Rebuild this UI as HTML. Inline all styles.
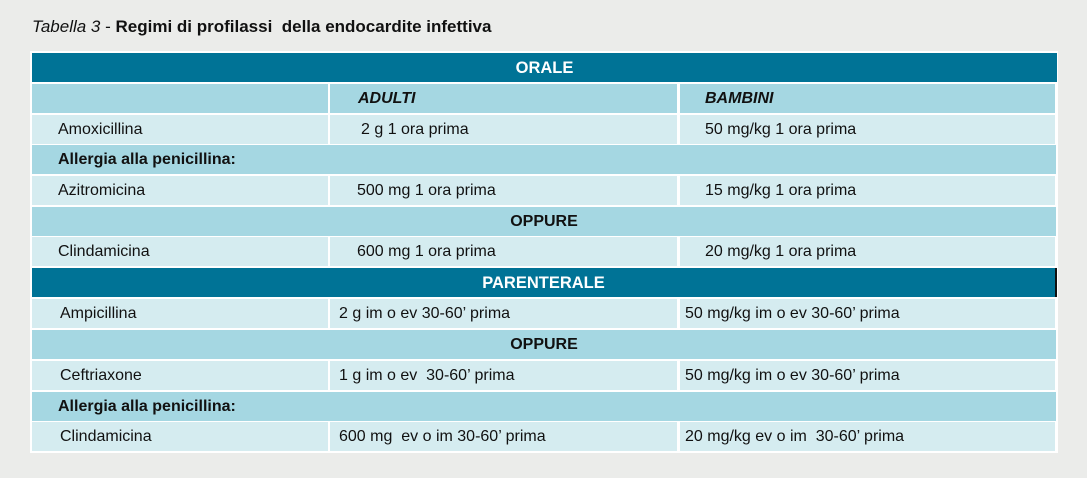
<!DOCTYPE html>
<html><head><meta charset="utf-8"><style>
body{margin:0;width:1087px;height:478px;background:#ebecea;font-family:"Liberation Sans",Arial,sans-serif;position:relative;overflow:hidden;color:#111}
.t{position:absolute;left:32px;top:17px;font-size:17px;white-space:nowrap}
.frame{position:absolute;left:30px;top:51px;width:1028px;height:402px;background:#fff}
.c{position:absolute;height:29px;line-height:30px;font-size:16px;white-space:nowrap;box-sizing:border-box}
.d{background:#007396;color:#fff;font-weight:bold;text-align:center;font-size:16.5px}
.m{background:#a5d7e2}
.l{background:#d5ecf0}
</style></head><body>
<div class="t"><i>Tabella 3</i> - <b>Regimi di profilassi&nbsp; della endocardite infettiva</b></div>
<div class="frame"></div>
<div id="rows"></div>
<script>
const tops=[53,84,115,145,176,207,237,268,299,330,361,392,422];
const rows=[
 ['d','ORALE','orale-header'],
 ['h',['','<b><i>ADULTI</i></b>','<b><i>BAMBINI</i></b>'],[0,28,25],'column-headers'],
 ['r',['Amoxicillina','2 g 1 ora prima','50 mg/kg 1 ora prima'],[26,31,25],'amoxicillina-row'],
 ['a','Allergia alla penicillina:','allergia-row-orale'],
 ['r',['Azitromicina','500 mg 1 ora prima','15 mg/kg 1 ora prima'],[26,27,25],'azitromicina-row'],
 ['o','OPPURE','oppure-orale'],
 ['r',['Clindamicina','600 mg 1 ora prima','20 mg/kg 1 ora prima'],[26,27,25],'clindamicina-orale-row'],
 ['d','PARENTERALE','parenterale-header'],
 ['r',['Ampicillina','2 g im o ev 30-60’ prima','50 mg/kg im o ev 30-60’ prima'],[28,9,5],'ampicillina-row'],
 ['o','OPPURE','oppure-parenterale'],
 ['r',['Ceftriaxone','1 g im o ev&nbsp; 30-60’ prima','50 mg/kg im o ev 30-60’ prima'],[28,9,5],'ceftriaxone-row'],
 ['a','Allergia alla penicillina:','allergia-row-parenterale'],
 ['r',['Clindamicina','600 mg&nbsp; ev o im 30-60’ prima','20 mg/kg ev o im&nbsp; 30-60’ prima'],[28,9,5],'clindamicina-parenterale-row']
];
const cols=[[32,296],[330,347],[680,375]];
const host=document.getElementById('rows');
rows.forEach((r,i)=>{
 const y=tops[i];
 if(r[0]==='d'||r[0]==='o'||r[0]==='a'){
  const e=document.createElement('div');
  
  
  e.className='c '+(r[0]==='d'?'d':'m');
  e.style.left='32px';e.style.top=y+'px';e.style.width=(r[0]==='d'?1025:1024)+'px';
  if(r[0]==='d'&&i===7)e.style.borderRight='2px solid #111';
  if(r[0]==='o'){e.style.textAlign='center';e.style.fontWeight='bold';}
  if(r[0]==='a'){e.style.paddingLeft='26px';e.style.fontWeight='bold';}
  e.innerHTML=r[1];host.appendChild(e);
 } else {
  r[1].forEach((txt,j)=>{
   const e=document.createElement('div');
   
   
   e.className='c '+(r[0]==='h'?'m':'l');
   e.style.left=cols[j][0]+'px';e.style.top=y+'px';e.style.width=cols[j][1]+'px';
   e.style.paddingLeft=r[2][j]+'px';
   e.innerHTML=txt;host.appendChild(e);
  });
 }
});
</script>
</body></html>
